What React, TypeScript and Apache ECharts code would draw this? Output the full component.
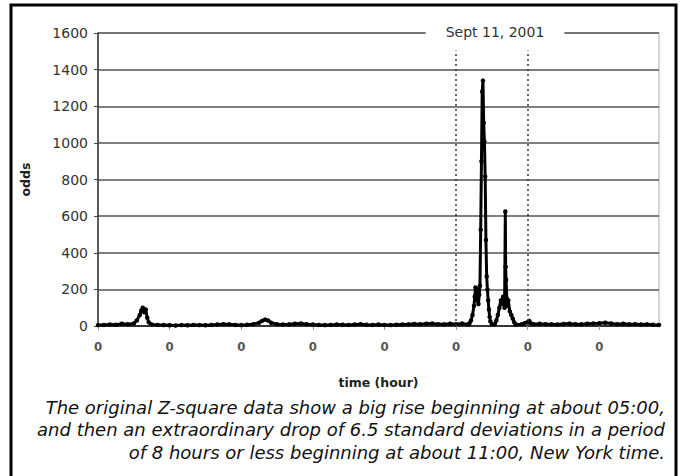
import React, { useEffect, useRef } from "react";
import * as echarts from "echarts";

// x positions are hours from the start of the record; one tick per day (24 h)
const dayTickLabels = ["0", "0", "0", "0", "0", "0", "0", "0"];
const yTicks = [0, 200, 400, 600, 800, 1000, 1200, 1400, 1600];

const hours = [
  0, 2, 4, 6, 8, 10, 12, 13, 14, 14.5, 15, 15.5, 16, 16.5, 17, 18,
  20, 22, 24, 26, 28, 30, 32, 34, 36, 38, 40, 42, 44, 46, 48, 50, 52, 54, 55, 56, 57, 58,
  60, 62, 64, 66, 68, 70, 72, 74, 76, 78, 80, 82, 84, 86, 88, 90, 92, 94, 96, 98,
  100, 102, 104, 106, 108, 110, 112, 114, 116, 118, 120, 122,
  124, 124.5, 125, 125.5, 126, 126.25, 126.5, 126.75, 127, 127.25, 127.5, 127.75,
  128, 128.25, 128.5, 128.75, 129, 129.25, 129.5, 129.75, 130, 130.25, 130.5, 130.75,
  131, 131.25, 131.5, 132,
  133, 133.5, 134, 134.5, 135, 135.5, 135.75, 136, 136.25, 136.5, 136.6, 136.75, 137,
  137.25, 137.5, 138, 138.5, 139, 139.5,
  140, 142, 143, 144, 144.5, 145, 146, 148, 150, 152, 154, 156, 158, 160, 162, 164,
  166, 168, 170, 172, 174, 176, 178, 180, 182, 184, 186, 188,
];

const odds = [
  5, 6, 8, 7, 12, 9, 14, 30, 60, 85, 100, 75, 90, 45, 20, 8,
  6, 5, 4, 3, 5, 4, 6, 5, 4, 6, 8, 10, 9, 6, 5, 7, 10, 18, 28, 35, 30, 18,
  10, 8, 9, 12, 14, 10, 8, 6, 5, 6, 8, 7, 6, 8, 10, 7, 6, 8, 6, 5,
  7, 8, 9, 11, 10, 12, 14, 10, 9, 12, 10, 14,
  8, 15, 30, 60, 110, 160, 210, 180, 140, 200, 120, 170,
  220, 525, 900, 1280, 1340, 1110, 1007, 816, 470, 270, 200, 140,
  90, 50, 25, 10,
  10, 30, 60, 100, 140, 120, 160, 140, 100, 625, 324, 251, 150,
  110, 140, 80, 60, 40, 20,
  8, 10, 15, 22, 28, 15, 10, 12, 10, 9, 8, 11, 13, 10, 9, 12,
  14, 15, 18, 14, 10, 12, 9, 10, 8, 9, 7, 6,
];

const eventDayStart = 120;
const eventDayEnd = 144;

const captionLines = [
  "The original Z-square data show a big rise beginning at about 05:00,",
  "and then an extraordinary drop of 6.5 standard deviations in a period",
  "of 8 hours or less beginning at about 11:00, New York time.",
];

export default function App() {
  const ref = useRef<HTMLDivElement>(null);
  useEffect(() => {
    if (!ref.current) return;
    const chart = echarts.init(ref.current, null, { renderer: "svg" });
    const data = hours.map((h, i) => [h, odds[i]]);
    const axisFont = "'DejaVu Sans', sans-serif";
    chart.setOption({
      animation: false,
      backgroundColor: "#ffffff",
      grid: {
        left: 98,
        right: 21,
        top: 33,
        bottom: 150,
        show: true,
        borderColor: "#aaaaaa",
        borderWidth: 1,
        backgroundColor: "transparent",
      },
      xAxis: {
        type: "value",
        min: 0,
        max: 188,
        interval: 24,
        name: "time (hour)",
        nameLocation: "middle",
        nameGap: 50,
        nameTextStyle: {
          fontFamily: axisFont,
          fontWeight: "bold",
          fontSize: 12.5,
          color: "#222",
        },
        axisLine: { show: true, lineStyle: { color: "#222", width: 1.5 } },
        axisTick: { show: true, length: 4, lineStyle: { color: "#999" } },
        splitLine: { show: false },
        axisLabel: {
          margin: 14,
          showMaxLabel: false,
          fontFamily: "'DejaVu Sans Condensed', 'DejaVu Sans', sans-serif",
          fontWeight: "bold",
          fontSize: 13,
          color: "#555",
          formatter: (v: number) => dayTickLabels[Math.round(v / 24)] ?? "",
        },
      },
      yAxis: {
        type: "value",
        min: 0,
        max: 1600,
        interval: 200,
        name: "odds",
        nameLocation: "middle",
        nameGap: 66,
        nameRotate: 90,
        nameTextStyle: {
          fontFamily: axisFont,
          fontWeight: "bold",
          fontSize: 12.5,
          color: "#222",
        },
        axisLine: { show: true, lineStyle: { color: "#333", width: 1.5 } },
        axisTick: { show: true, length: 4, lineStyle: { color: "#444" } },
        splitLine: { show: true, lineStyle: { color: "#555", width: 1.5 } },
        axisLabel: {
          margin: 10,
          fontFamily: axisFont,
          fontSize: 14,
          color: "#333",
          formatter: (v: number) => (yTicks.includes(v) ? String(v) : ""),
        },
      },
      series: [
        {
          type: "line",
          data,
          showAllSymbol: true,
          symbol: "circle",
          symbolSize: 4.5,
          lineStyle: { color: "#000", width: 3 },
          itemStyle: { color: "#000" },
          z: 3,
          markLine: {
            silent: true,
            symbol: "none",
            label: { show: false },
            lineStyle: { color: "#333", type: [2, 3], width: 1.5 },
            data: [
              [{ coord: [eventDayStart, 0] }, { coord: [eventDayStart, 1505] }],
              [{ coord: [eventDayEnd, 0] }, { coord: [eventDayEnd, 1505] }],
            ],
          },
        },
      ],
      graphic: [
        {
          type: "rect",
          shape: { x: 11, y: 5, width: 665, height: 490 },
          style: { fill: "none", stroke: "#000", lineWidth: 3 },
          z: 10,
        },
        {
          type: "text",
          x: 495,
          y: 32,
          z: 10,
          style: {
            text: "Sept 11, 2001",
            fontFamily: axisFont,
            fontSize: 14,
            fill: "#333",
            align: "center",
            verticalAlign: "middle",
            backgroundColor: "#fff",
            padding: [4, 20, 4, 20],
          },
        },
        ...captionLines.map((line, i) => ({
          type: "text",
          x: 665,
          y: 407 + i * 22.5,
          z: 10,
          style: {
            text: line,
            fontFamily: "'DejaVu Sans', sans-serif",
            fontStyle: "italic",
            fontSize: 18,
            fill: "#111",
            align: "right",
            verticalAlign: "middle",
          },
        })),
      ],
    });
    return () => chart.dispose();
  }, []);
  return (
    <div
      ref={ref}
      style={{ position: "fixed", left: 0, top: 0, width: 680, height: 476 }}
    />
  );
}
